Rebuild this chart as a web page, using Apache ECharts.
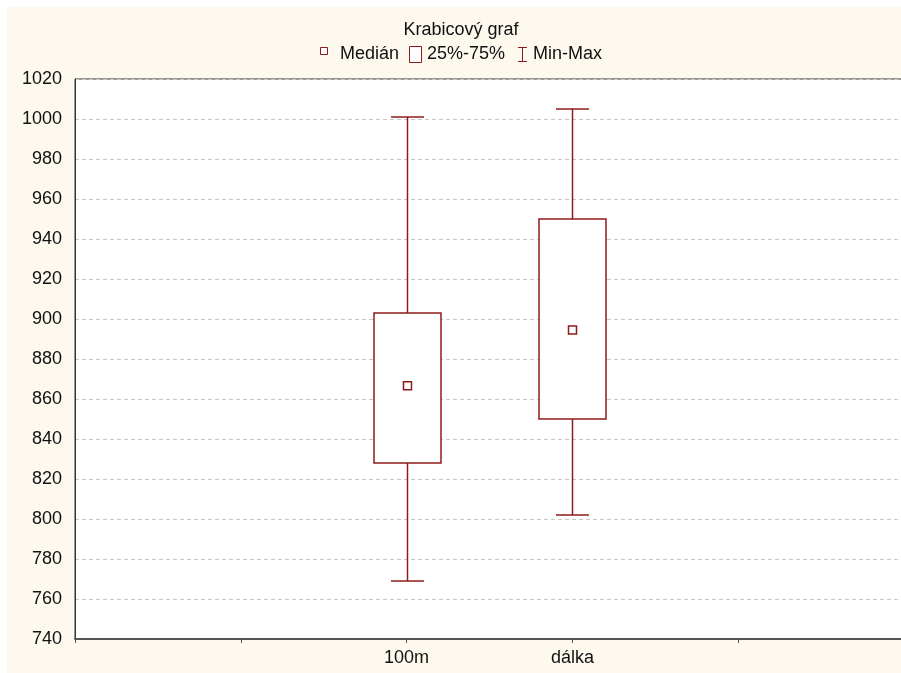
<!DOCTYPE html>
<html>
<head>
<meta charset="utf-8">
<script src="https://cdn.jsdelivr.net/npm/echarts@6/dist/echarts.min.js"></script>
<style>
html,body{margin:0;padding:0;background:#fff;overflow:hidden;}
#c{width:901px;height:673px;}
</style>
</head>
<body>
<div id="c"></div>
<script>
// ---- data ----
const categories = ['100m', 'dálka'];
const categorySlots = [2, 3];
const minVals = [769, 802];
const q1Vals = [828, 850];
const medianVals = [866.6, 894.5];
const q3Vals = [903, 950];
const maxVals = [1001, 1005];
const yTicks = [740, 760, 780, 800, 820, 840, 860, 880, 900, 920, 940, 960, 980, 1000, 1020];
const titleText = 'Krabicový graf';
const legendLabels = ['Medián', '25%-75%', 'Min-Max'];

const RED = '#8e1b1b';
const FONT = '"Liberation Sans", Arial, sans-serif';

const chart = echarts.init(document.getElementById('c'), null, {renderer: 'canvas'});

const seriesData = categories.map((c, i) => [categorySlots[i], minVals[i], q1Vals[i], medianVals[i], q3Vals[i], maxVals[i]]);

function renderBox(params, api) {
  const x = api.value(0);
  const pMin = api.coord([x, api.value(1)]);
  const pQ1 = api.coord([x, api.value(2)]);
  const pMed = api.coord([x, api.value(3)]);
  const pQ3 = api.coord([x, api.value(4)]);
  const pMax = api.coord([x, api.value(5)]);
  const cx = Math.round(pMed[0]) + 0.5;
  const boxW = 67, capW = 33, medS = 8;
  const ls = {stroke: RED, lineWidth: 1.5};
  return {
    type: 'group',
    children: [
      {type: 'line', shape: {x1: cx, y1: pMax[1], x2: cx, y2: pQ3[1]}, style: ls},
      {type: 'line', shape: {x1: cx, y1: pQ1[1], x2: cx, y2: pMin[1]}, style: ls},
      {type: 'line', shape: {x1: cx - capW / 2, y1: pMax[1], x2: cx + capW / 2, y2: pMax[1]}, style: ls},
      {type: 'line', shape: {x1: cx - capW / 2, y1: pMin[1], x2: cx + capW / 2, y2: pMin[1]}, style: ls},
      {type: 'rect', shape: {x: cx - boxW / 2, y: pQ3[1], width: boxW, height: pQ1[1] - pQ3[1]}, style: {fill: '#fff', stroke: RED, lineWidth: 1.5}},
      {type: 'rect', shape: {x: cx - medS / 2, y: pMed[1] - medS / 2, width: medS, height: medS}, style: {fill: '#fff', stroke: RED, lineWidth: 1.5}}
    ]
  };
}

const labelMap = {};
categories.forEach((c, i) => { labelMap[categorySlots[i]] = c; });

const option = {
  backgroundColor: '#ffffff',
  animation: false,
  graphic: [
    {type: 'rect', z: -10, silent: true, shape: {x: 7, y: 7, width: 901, height: 673}, style: {fill: '#fdf9ef'}},
    {type: 'text', x: 461, y: 30, style: {text: titleText, font: '18px ' + FONT, fill: '#111', textAlign: 'center', textVerticalAlign: 'middle'}},
    // legend
    {type: 'rect', shape: {x: 320.5, y: 47.5, width: 7, height: 7}, style: {fill: '#fff', stroke: RED, lineWidth: 1}},
    {type: 'text', x: 340, y: 54, style: {text: legendLabels[0], font: '18px ' + FONT, fill: '#111', textAlign: 'left', textVerticalAlign: 'middle'}},
    {type: 'rect', shape: {x: 409.5, y: 46.5, width: 12, height: 16}, style: {fill: '#fff', stroke: RED, lineWidth: 1}},
    {type: 'text', x: 427, y: 54, style: {text: legendLabels[1], font: '18px ' + FONT, fill: '#111', textAlign: 'left', textVerticalAlign: 'middle'}},
    {type: 'line', shape: {x1: 522.5, y1: 47, x2: 522.5, y2: 62}, style: {stroke: RED, lineWidth: 1}},
    {type: 'line', shape: {x1: 518, y1: 47.5, x2: 527, y2: 47.5}, style: {stroke: RED, lineWidth: 1}},
    {type: 'line', shape: {x1: 518, y1: 61.5, x2: 527, y2: 61.5}, style: {stroke: RED, lineWidth: 1}},
    {type: 'text', x: 533, y: 54, style: {text: legendLabels[2], font: '18px ' + FONT, fill: '#111', textAlign: 'left', textVerticalAlign: 'middle'}}
  ],
  grid: {
    left: 75, top: 79, right: -3, bottom: 34,
    outerBoundsMode: 'none',
    containLabel: false,
    show: true, backgroundColor: '#ffffff', borderColor: '#333', borderWidth: 1
  },
  xAxis: {
    type: 'value', min: 0, max: 5, interval: 1,
    splitLine: {show: false},
    axisLine: {show: true, lineStyle: {color: '#555', width: 2}},
    axisTick: {show: true, inside: false, length: 4, lineStyle: {color: '#555'}},
    axisLabel: {
      margin: 10, color: '#111', fontFamily: FONT, fontSize: 18,
      formatter: v => labelMap[v] || ''
    }
  },
  yAxis: {
    type: 'value', min: yTicks[0], max: yTicks[yTicks.length - 1], interval: 20,
    axisLine: {show: true, lineStyle: {color: '#333', width: 1}},
    axisTick: {show: false},
    axisLabel: {margin: 13, color: '#111', fontFamily: FONT, fontSize: 18, showMinLabel: true, showMaxLabel: true,
      formatter: v => String(v)},
    splitLine: {show: true, lineStyle: {color: '#c8c8c8', type: [4, 3], width: 1}}
  },
  series: [{
    type: 'custom',
    name: legendLabels[1],
    renderItem: renderBox,
    data: seriesData,
    encode: {x: 0, y: [1, 2, 3, 4, 5]},
    clip: false
  }]
};
chart.setOption(option);
</script>
</body>
</html>
